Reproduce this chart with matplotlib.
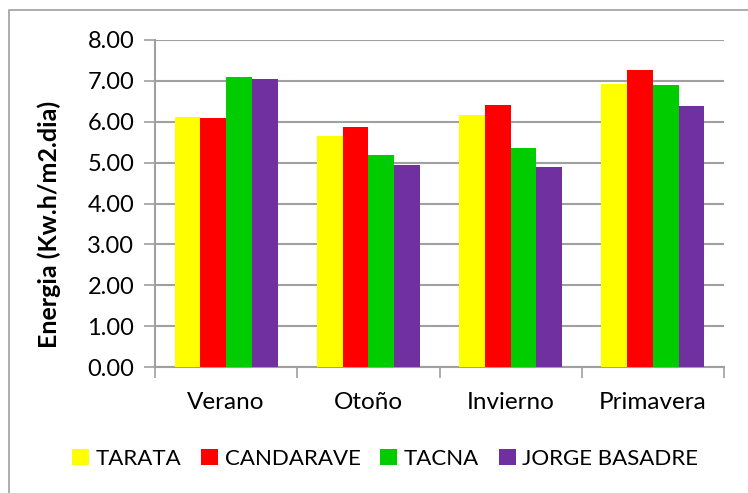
import numpy as np
import matplotlib.pyplot as plt
from matplotlib.patches import Rectangle

plt.rcParams['font.family'] = ['Lato', 'DejaVu Sans']

# data
seasons = ['Verano', 'Otoño', 'Invierno', 'Primavera']
tarata = [6.11, 5.65, 6.17, 6.93]
candarave = [6.09, 5.87, 6.40, 7.26]
tacna = [7.09, 5.18, 5.35, 6.91]
jorge_basadre = [7.05, 4.94, 4.89, 6.39]

series = [('TARATA', tarata, '#FFFF00'),
          ('CANDARAVE', candarave, '#FF0000'),
          ('TACNA', tacna, '#00CC00'),
          ('JORGE BASADRE', jorge_basadre, '#7030A0')]

fig = plt.figure(figsize=(7.48, 4.93), dpi=100)
ax = fig.add_axes([155/748, 1-367/493, 569/748, 327/493])

x = np.arange(len(seasons))
w = 0.181
for i, (name, vals, col) in enumerate(series):
    ax.bar(x + (i - 1.5)*w, vals, w, color=col, label=name, zorder=3)

ax.set_xlim(-0.5, 3.5)
ax.set_ylim(0, 8)
ax.set_yticks(np.arange(0, 8.01, 1))
ax.set_yticklabels(['%.2f' % v for v in np.arange(0, 8.01, 1)], fontsize=17)
ax.set_xticks(x)
ax.set_xticklabels(seasons, fontsize=17.5)
ax.set_xticks(np.arange(-0.5, 3.6, 1), minor=True)
ax.tick_params(axis='x', which='major', length=0, pad=18)
ax.tick_params(axis='x', which='minor', length=8, color='#A0A0A0', width=1.2)
ax.tick_params(axis='y', length=8, color='#A0A0A0', width=1.2, pad=7)

ax.grid(axis='y', color='#A0A0A0', linewidth=1.5, zorder=0)
for s in ['top', 'right']:
    ax.spines[s].set_visible(False)
for s in ['left', 'bottom']:
    ax.spines[s].set_color('#A0A0A0')
    ax.spines[s].set_linewidth(1.5)

ax.set_ylabel('Energia (Kw.h/m2.dia)', fontsize=18, fontweight='bold')
ax.yaxis.set_label_coords(-0.165, 0.437)

fig.legend(loc='center', bbox_to_anchor=(0.515, 1-459/493), ncol=4, frameon=False,
           fontsize=16, handlelength=0.75, handleheight=0.75, handletextpad=0.3,
           columnspacing=0.9)

# outer chart border (cut off at right and bottom in the reference)
fig.patches.append(Rectangle((9/748, -0.1), 2, 1 - 10/493 + 0.1,
                             transform=fig.transFigure, fill=False,
                             edgecolor='#A0A0A0', linewidth=1.2))

fig.savefig('out.png', dpi=100)
